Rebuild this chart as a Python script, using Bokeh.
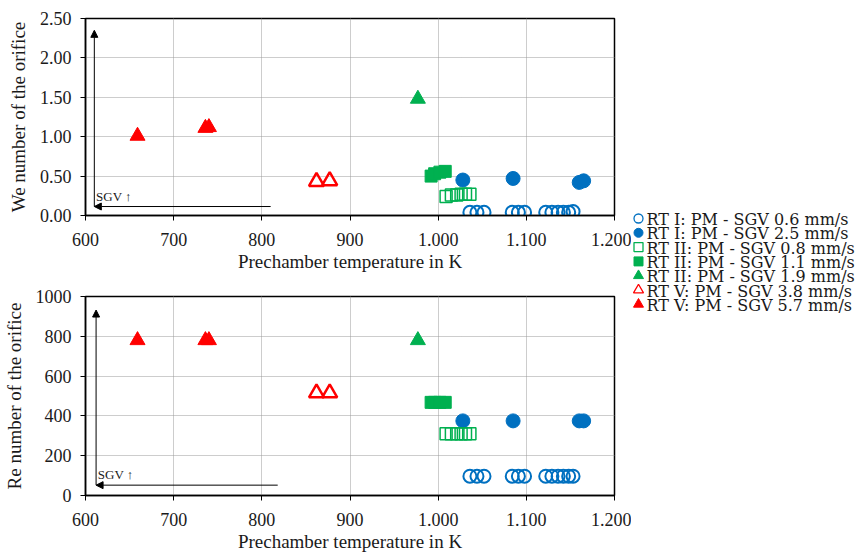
from bokeh.plotting import figure
from bokeh.layouts import row, column
from bokeh.models import (ColumnDataSource, FixedTicker, Range1d, Arrow, NormalHead,
                          Label, NumeralTickFormatter)
from bokeh.embed import file_html
from bokeh.resources import INLINE

# ---------------- data ----------------
x_ticks = [600, 700, 800, 900, 1000, 1100, 1200]
x_tick_labels = ["600", "700", "800", "900", "1.000", "1.100", "1.200"]
we_ticks = [0.0, 0.5, 1.0, 1.5, 2.0, 2.5]
re_ticks = [0, 200, 400, 600, 800, 1000]

series_labels = ["RT I: PM - SGV 0.6 mm/s", "RT I: PM - SGV 2.5 mm/s",
                 "RT II: PM - SGV 0.8 mm/s", "RT II: PM - SGV 1.1 mm/s",
                 "RT II: PM - SGV 1.9 mm/s", "RT V: PM - SGV 3.8 mm/s",
                 "RT V: PM - SGV 5.7 mm/s"]

# RT I 0.6 mm/s
rt1a_T = [1036, 1044, 1052, 1084, 1091, 1098, 1122, 1129, 1136, 1142, 1148, 1153]
rt1a_We = [0.04, 0.04, 0.04, 0.04, 0.04, 0.04, 0.04, 0.04, 0.04, 0.04, 0.04, 0.05]
rt1a_Re = [97, 97, 97, 97, 97, 97, 97, 97, 97, 97, 97, 97]
# RT I 2.5 mm/s
rt1b_T = [1028, 1085, 1160, 1165]
rt1b_We = [0.45, 0.47, 0.42, 0.44]
rt1b_Re = [375, 375, 375, 375]
# RT II 0.8 mm/s
rt2a_T = [1009, 1015, 1021, 1026, 1031, 1036]
rt2a_We = [0.24, 0.26, 0.26, 0.27, 0.27, 0.27]
rt2a_Re = [310, 310, 310, 310, 310, 310]
# RT II 1.1 mm/s
rt2b_T = [992, 996, 1002, 1008]
rt2b_We = [0.50, 0.53, 0.55, 0.56]
rt2b_Re = [468, 468, 468, 468]
# RT II 1.9 mm/s
rt2c_T = [977]
rt2c_We = [1.48]
rt2c_Re = [780]
# RT V 3.8 mm/s
rt5a_T = [862, 877]
rt5a_We = [0.43, 0.44]
rt5a_Re = [515, 515]
# RT V 5.7 mm/s
rt5b_T = [659, 736, 740]
rt5b_We = [1.01, 1.11, 1.12]
rt5b_Re = [780, 780, 780]

# SGV arrows (data coords)
we_arrow = dict(x0=610, y0=0.114, x_end_h=810, y_top=2.35, lab_y=0.15)
re_arrow = dict(x0=612, y0=52, x_end_h=818, y_top=932, lab_y=66)

# ---------------- styles ----------------
BLUE = "#0070C0"
GREEN = "#00B050"
RED = "#FF0000"
FONT = "Liberation Serif"
LEG_FONT = "DejaVu Serif"
TXT = "#1a1a1a"

styles = [
    dict(marker="circle", size=13, fill_color="white", fill_alpha=0.0, line_color=BLUE, line_width=2),
    dict(marker="circle", size=14, fill_color=BLUE, line_color=BLUE, line_width=1),
    dict(marker="square", size=12, fill_color="white", fill_alpha=0.0, line_color=GREEN, line_width=1.5),
    dict(marker="square", size=12, fill_color=GREEN, line_color=GREEN, line_width=1),
    dict(marker="triangle", size=15, fill_color=GREEN, line_color=GREEN, line_width=1),
    dict(marker="triangle", size=15, fill_color="white", fill_alpha=0.0, line_color=RED, line_width=2.5),
    dict(marker="triangle", size=15, fill_color=RED, line_color=RED, line_width=1),
]

Ts = [rt1a_T, rt1b_T, rt2a_T, rt2b_T, rt2c_T, rt5a_T, rt5b_T]
Wes = [rt1a_We, rt1b_We, rt2a_We, rt2b_We, rt2c_We, rt5a_We, rt5b_We]
Res = [rt1a_Re, rt1b_Re, rt2a_Re, rt2b_Re, rt2c_Re, rt5a_Re, rt5b_Re]


def style_axes(p, yticks, ylabel, yfmt):
    p.xaxis.ticker = FixedTicker(ticks=x_ticks)
    p.xaxis.major_label_overrides = {t: l for t, l in zip(x_ticks, x_tick_labels)}
    p.yaxis.ticker = FixedTicker(ticks=yticks)
    p.yaxis.formatter = NumeralTickFormatter(format=yfmt)
    p.xaxis.axis_label = "Prechamber temperature in K"
    p.yaxis.axis_label = ylabel
    for ax in (p.xaxis, p.yaxis):
        ax.axis_label_text_font = FONT
        ax.axis_label_text_font_style = "normal"
        ax.axis_label_text_font_size = "19px"
        ax.axis_label_text_color = TXT
        ax.major_label_text_font = FONT
        ax.major_label_text_font_size = "18px"
        ax.major_label_text_color = TXT
        ax.axis_line_color = "black"
        ax.axis_line_width = 1.5
        ax.major_tick_line_color = "black"
        ax.major_tick_out = 5
        ax.major_tick_in = 0
        ax.minor_tick_line_color = None
    p.xaxis.major_label_standoff = 12
    p.xaxis.axis_label_standoff = 2
    p.yaxis.major_label_standoff = 9
    p.yaxis.axis_label_standoff = 8
    p.grid.grid_line_color = "#9a9a9a"
    p.grid.grid_line_dash = "1 1"
    p.grid.grid_line_width = 1
    p.outline_line_color = "black"
    p.outline_line_width = 1.5
    p.background_fill_color = "white"
    p.border_fill_color = "white"


def make_plot(yvals, yrange, yticks, ylabel, yfmt, arrow, height, bl, br, bt, bb):
    p = figure(width=631, height=height, output_backend="svg", toolbar_location=None,
               x_range=Range1d(600, 1200), y_range=Range1d(*yrange),
               min_border_left=bl, min_border_right=br, min_border_top=bt, min_border_bottom=bb)
    style_axes(p, yticks, ylabel, yfmt)
    for T, Y, st in zip(Ts, yvals, styles):
        src = ColumnDataSource(dict(x=T, y=Y))
        p.scatter("x", "y", source=src, **st)
    p.add_layout(Arrow(end=NormalHead(size=7, fill_color="black", line_color="black"),
                       x_start=arrow["x0"], y_start=arrow["y0"],
                       x_end=arrow["x0"], y_end=arrow["y_top"],
                       line_color="black", line_width=1))
    p.add_layout(Arrow(end=NormalHead(size=7, fill_color="black", line_color="black"),
                       x_start=arrow["x_end_h"], y_start=arrow["y0"],
                       x_end=arrow["x0"], y_end=arrow["y0"],
                       line_color="black", line_width=1))
    p.add_layout(Label(x=arrow["x0"] + 2, y=arrow["lab_y"], text="SGV \u2191",
                       text_font=FONT, text_font_size="13px", text_color=TXT,
                       text_baseline="bottom"))
    return p


p1 = make_plot(Wes, (0, 2.5), we_ticks, "We number of the orifice", "0.00", we_arrow,
               277, 85, 17, 18, 62)
p2 = make_plot(Res, (0, 1000), re_ticks, "Re number of the orifice", "0", re_arrow,
               280, 85, 17, 19, 62)

# legend panel
p3 = figure(width=230, height=557, output_backend="svg", toolbar_location=None,
            x_range=Range1d(0, 230), y_range=Range1d(557, 0),
            min_border=0)
p3.axis.visible = False
p3.grid.visible = False
p3.outline_line_color = None
leg_x0 = 7
leg_y0 = 218
leg_dy = 14.3
leg_sizes = [9, 9, 9, 9, 10, 10, 10]
for i, (lab, st) in enumerate(zip(series_labels, styles)):
    st = dict(st)
    st["size"] = leg_sizes[i]
    st["line_width"] = min(st["line_width"], 1.3)
    y = leg_y0 + i * leg_dy
    p3.scatter([leg_x0], [y], **st)
    p3.add_layout(Label(x=leg_x0 + 8, y=y + 1, text=lab, text_font=LEG_FONT,
                        text_font_size="16px", text_baseline="middle", text_color=TXT))

layout = row(column(p1, p2), p3)

with open("out.html", "w") as f:
    f.write(file_html(layout, INLINE))
